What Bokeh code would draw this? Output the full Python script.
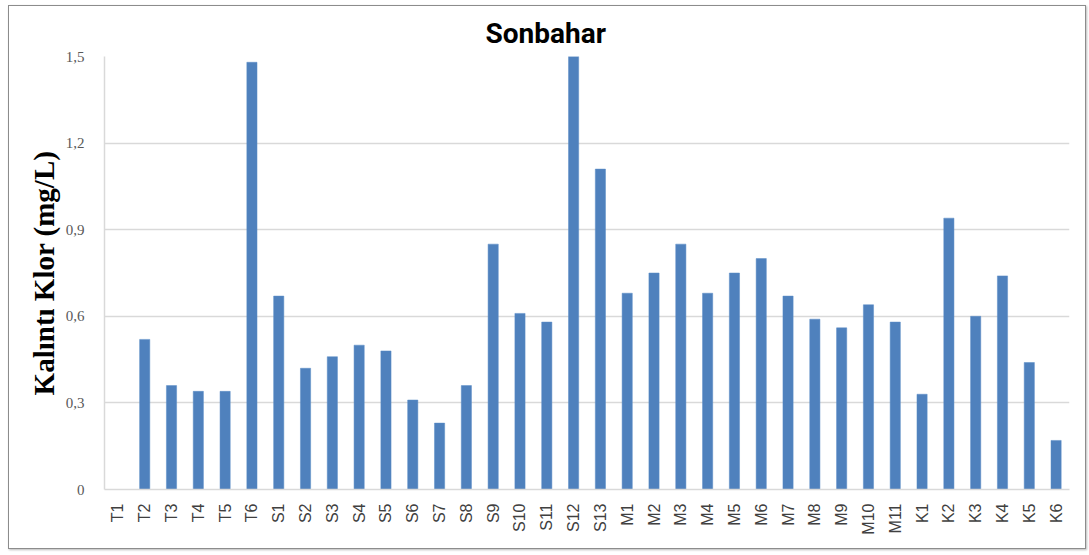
from bokeh.plotting import figure
from bokeh.models import FixedTicker, CustomJSTickFormatter, Range1d
from bokeh.embed import file_html
from bokeh.resources import INLINE
import math

categories = ["T1", "T2", "T3", "T4", "T5", "T6",
              "S1", "S2", "S3", "S4", "S5", "S6", "S7", "S8", "S9", "S10", "S11", "S12", "S13",
              "M1", "M2", "M3", "M4", "M5", "M6", "M7", "M8", "M9", "M10", "M11",
              "K1", "K2", "K3", "K4", "K5", "K6"]
values = [0.0, 0.52, 0.36, 0.34, 0.34, 1.48,
          0.67, 0.42, 0.46, 0.50, 0.48, 0.31, 0.23, 0.36, 0.85, 0.61, 0.58, 1.50, 1.11,
          0.68, 0.75, 0.85, 0.68, 0.75, 0.80, 0.67, 0.59, 0.56, 0.64, 0.58,
          0.33, 0.94, 0.60, 0.74, 0.44, 0.17]
y_ticks = [0, 0.3, 0.6, 0.9, 1.2, 1.5]

p = figure(x_range=categories, y_range=Range1d(0, 1.5),
           width=1078, height=544, output_backend="svg", toolbar_location=None,
           title="Sonbahar",
           min_border_left=95, min_border_right=18, min_border_top=50, min_border_bottom=61)
p.styles = {"border": "1px solid #8c8c8c", "box-shadow": "1px 1px 2px #bbbbbb",
            "margin": "5px 0px 0px 8px"}

p.vbar(x=categories, top=values, width=0.38, fill_color="#4f81bd", line_color="#5b8cc6", line_width=0.5)

p.title.align = "left"
p.title.text_font = "Roboto"
p.title.text_font_style = "bold"
p.title.text_font_size = "28px"
p.title.text_color = "#000000"
p.title.offset = 381
p.title.standoff = 14

p.outline_line_color = None
p.xgrid.grid_line_color = None
p.ygrid.grid_line_color = "#d9d9d9"
p.ygrid.grid_line_width = 1.5

p.yaxis.ticker = FixedTicker(ticks=y_ticks)
p.yaxis.formatter = CustomJSTickFormatter(code="return tick == 0 ? '0' : tick.toFixed(1).replace('.', ',');")
p.yaxis.axis_label = "Kalıntı Klor (mg/L)"
p.yaxis.axis_label_text_font = "Liberation Serif"
p.yaxis.axis_label_text_font_style = "bold"
p.yaxis.axis_label_text_font_size = "29px"
p.yaxis.axis_label_text_color = "#000000"
p.yaxis.axis_label_standoff = 3
p.yaxis.major_label_text_font = "Liberation Serif"
p.yaxis.major_label_text_font_size = "15px"
p.yaxis.major_label_text_color = "#595959"
p.yaxis.major_tick_line_color = None
p.yaxis.minor_tick_line_color = None
p.yaxis.axis_line_color = "#d9d9d9"
p.yaxis.axis_line_width = 1.5
p.yaxis.major_label_standoff = 14

p.xaxis.major_label_orientation = math.pi / 2
p.xaxis.major_label_text_font = "Liberation Sans"
p.xaxis.major_label_text_font_size = "16px"
p.xaxis.major_label_text_color = "#404040"
p.xaxis.major_tick_line_color = None
p.xaxis.axis_line_color = "#d9d9d9"
p.xaxis.axis_line_width = 1.5
p.xaxis.major_label_standoff = 8

open("out.html", "w").write(file_html(p, INLINE))
